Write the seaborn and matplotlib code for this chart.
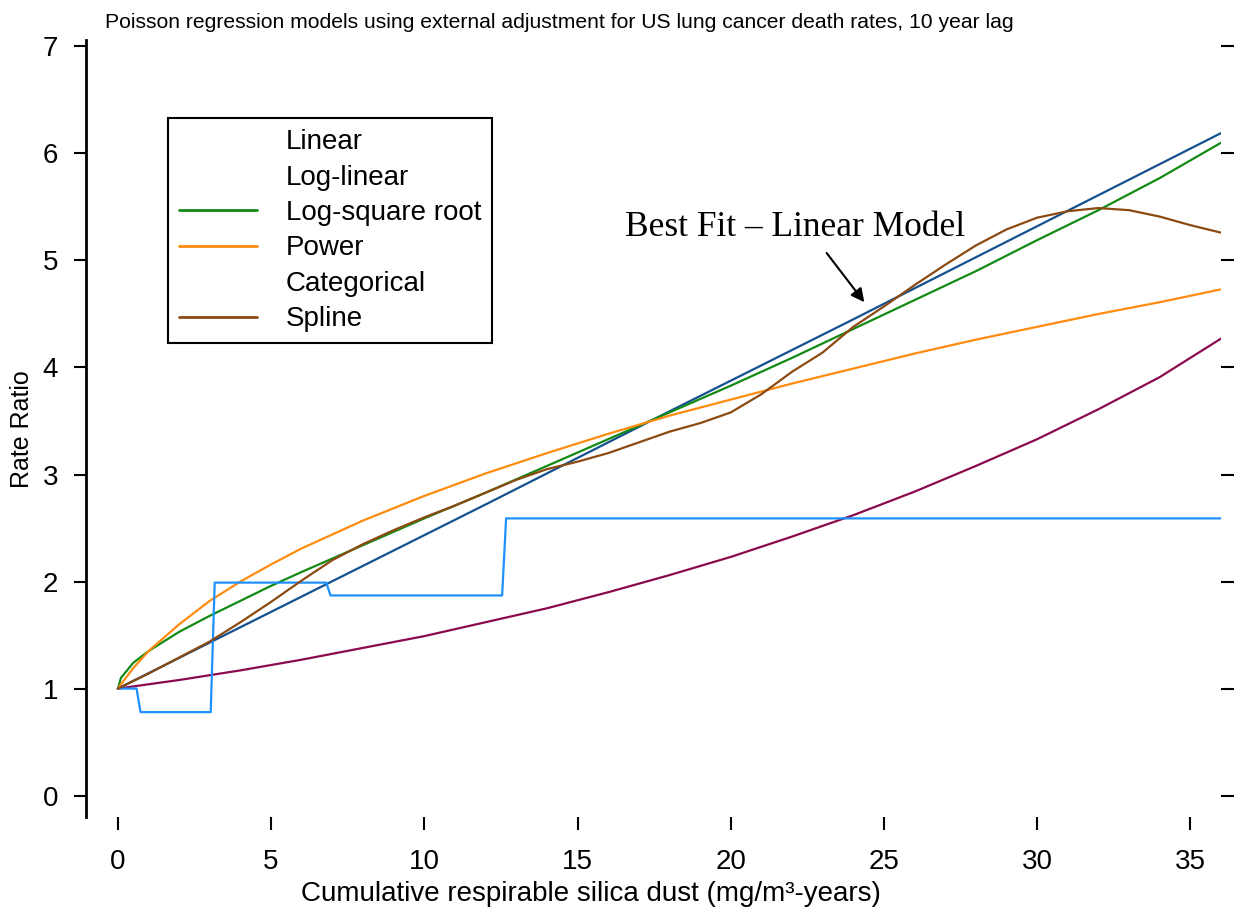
import matplotlib
matplotlib.use("Agg")
import matplotlib.pyplot as plt
import seaborn as sns
from matplotlib.lines import Line2D

# values
x_lin = [0, 6, 12, 18, 24, 30, 36]
rr_lin = [1.0, 1.86, 2.72, 3.59, 4.45, 5.32, 6.19]

x_loglin = [0, 2, 4, 6, 8, 10, 12, 14, 16, 18, 20, 22, 24, 26, 28, 30, 32, 34, 36]
rr_loglin = [1.0, 1.08, 1.17, 1.27, 1.38, 1.49, 1.62, 1.75, 1.90, 2.06, 2.23, 2.42, 2.62, 2.84, 3.08, 3.33, 3.61, 3.91, 4.27]

x_sqrt = [0, 0.1, 0.5, 1, 2, 3, 4, 5, 6, 8, 10, 12, 14, 16, 18, 20, 22, 24, 26, 28, 30, 32, 34, 36]
rr_sqrt = [1.0, 1.10, 1.24, 1.35, 1.53, 1.68, 1.82, 1.96, 2.09, 2.34, 2.59, 2.83, 3.08, 3.33, 3.58, 3.83,
           4.09, 4.36, 4.63, 4.90, 5.19, 5.47, 5.77, 6.10]

x_pow = [0, 0.1, 0.5, 1, 2, 3, 4, 5, 6, 8, 10, 12, 14, 16, 18, 20, 22, 24, 26, 28, 30, 32, 34, 36]
rr_pow = [1.0, 1.04, 1.19, 1.35, 1.60, 1.82, 2.00, 2.16, 2.31, 2.57, 2.80, 3.01, 3.20, 3.38, 3.55, 3.70,
          3.85, 3.99, 4.13, 4.26, 4.38, 4.50, 4.61, 4.73]

x_cat = [0, 0.61, 0.74, 3.03, 3.16, 6.8, 6.94, 12.54, 12.67, 36]
rr_cat = [1.0, 1.0, 0.78, 0.78, 1.99, 1.99, 1.87, 1.87, 2.59, 2.59]

x_spl = list(range(0, 37))
rr_spl = [1.0, 1.14, 1.29, 1.44, 1.62, 1.81, 2.01, 2.20, 2.35, 2.48, 2.60, 2.71, 2.83, 2.95, 3.05, 3.12,
          3.20, 3.30, 3.40, 3.48, 3.58, 3.75, 3.96, 4.14, 4.38, 4.57, 4.77, 4.96, 5.14, 5.29, 5.40, 5.46,
          5.49, 5.47, 5.41, 5.33, 5.26]

labels = ["Linear", "Log-linear", "Log-square root", "Power", "Categorical", "Spline"]
colors = ["#15508f", "#8b0a4e", "#138a13", "#ff8c0f", "#1e90ff", "#8b4a12"]
legend_shown = [False, False, True, True, False, True]

sns.set_style("white")
plt.rcParams["font.family"] = ["Liberation Sans", "DejaVu Sans"]
plt.rcParams["text.color"] = "black"
plt.rcParams["axes.labelcolor"] = "black"

fig = plt.figure(figsize=(12.36, 9.13), dpi=100)
ax = fig.add_axes([86 / 1236, 1 - 817 / 913, (1221 - 86) / 1236, (817 - 40) / 913])

series = [(x_lin, rr_lin), (x_loglin, rr_loglin), (x_sqrt, rr_sqrt),
          (x_pow, rr_pow), (x_cat, rr_cat), (x_spl, rr_spl)]
for (xs, ys), c in zip(series, colors):
    sns.lineplot(x=xs, y=ys, color=c, lw=1.6, ax=ax, sort=False, estimator=None)

ax.set_xlim(-1.04, 36.0)
ax.set_ylim(-0.2, 7.06)
ax.set_xticks(range(0, 40, 5))
ax.set_yticks(range(0, 8))

for s in ["top", "right", "bottom"]:
    ax.spines[s].set_visible(False)
ax.spines["left"].set_color("black")
ax.spines["left"].set_linewidth(2)
ax.tick_params(axis="both", which="both", direction="out", length=9, width=1.5,
               colors="black", labelsize=20)
ax.tick_params(axis="y", left=True, right=True, labelright=False, pad=11)
ax.tick_params(axis="x", bottom=True, pad=14)

ax.set_xlabel("Cumulative respirable silica dust (mg/m\u00b3-years)", fontsize=20)
ax.xaxis.set_label_coords((591 - 86) / 1135, -0.082)
ax.set_ylabel("Rate Ratio", fontsize=18)
ax.yaxis.set_label_coords(-0.046, (817 - 429) / 777)

fig.text(105 / 1236, 1 - 22 / 913,
         "Poisson regression models using external adjustment for US lung cancer death rates, 10 year lag",
         fontsize=15.2, va="center", ha="left")

ax.text(22.1, 5.31, "Best Fit \u2013 Linear Model", ha="center", va="center",
        family=["Liberation Serif", "DejaVu Serif"], fontsize=25.5)
ax.annotate("", xy=(24.36, 4.61), xytext=(23.13, 5.07),
            arrowprops=dict(arrowstyle="-|>", color="black", lw=1.5,
                            mutation_scale=20, shrinkA=0, shrinkB=0))

handles = [Line2D([], [], color=c if show else "none", lw=2)
           for c, show in zip(colors, legend_shown)]
leg = ax.legend(handles, labels, loc="upper left", bbox_to_anchor=(0.0722, 0.8996),
                borderaxespad=0, fontsize=20, handlelength=2.8, handletextpad=1.05,
                labelspacing=0.34, borderpad=0.4, fancybox=False, framealpha=1)
leg.get_frame().set_edgecolor("black")
leg.get_frame().set_linewidth(1.5)

fig.savefig("out.png", dpi=100)
